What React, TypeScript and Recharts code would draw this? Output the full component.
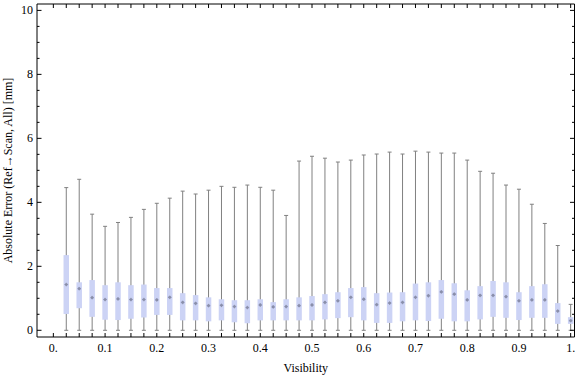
import React from 'react';
import { ComposedChart, Scatter, ErrorBar, XAxis, YAxis, Label } from 'recharts';

// Visibility bins and box-whisker statistics
const visibility = [
  0.025, 0.05, 0.075, 0.1, 0.125, 0.15, 0.175, 0.2, 0.225, 0.25,
  0.275, 0.3, 0.325, 0.35, 0.375, 0.4, 0.425, 0.45, 0.475, 0.5,
  0.525, 0.55, 0.575, 0.6, 0.625, 0.65, 0.675, 0.7, 0.725, 0.75,
  0.775, 0.8, 0.825, 0.85, 0.875, 0.9, 0.925, 0.95, 0.975, 1.0,
];
const maxs = [
  4.46, 4.72, 3.63, 3.25, 3.37, 3.53, 3.78, 3.97, 4.13, 4.35,
  4.26, 4.38, 4.5, 4.47, 4.54, 4.47, 4.38, 3.59, 5.29, 5.44,
  5.38, 5.26, 5.32, 5.48, 5.51, 5.57, 5.51, 5.6, 5.57, 5.54,
  5.54, 5.32, 4.97, 4.91, 4.54, 4.41, 3.94, 3.34, 2.65, 0.81,
];
const q3s = [
  2.35, 1.5, 1.57, 1.41, 1.5, 1.41, 1.43, 1.32, 1.32, 1.16,
  1.1, 1.03, 0.97, 0.94, 0.94, 0.97, 0.88, 0.97, 1.03, 1.07,
  1.13, 1.19, 1.32, 1.35, 1.16, 1.18, 1.19, 1.46, 1.5, 1.57,
  1.47, 1.25, 1.38, 1.54, 1.5, 1.19, 1.38, 1.44, 0.85, 0.41,
];
const medians = [
  1.43, 1.3, 1.02, 0.96, 0.98, 0.96, 0.96, 0.95, 1.03, 0.87,
  0.84, 0.77, 0.78, 0.74, 0.71, 0.79, 0.73, 0.74, 0.77, 0.79,
  0.87, 0.92, 1.03, 0.97, 0.8, 0.85, 0.87, 1.03, 1.08, 1.2,
  1.13, 0.95, 1.09, 1.09, 1.05, 0.92, 0.95, 0.95, 0.6, 0.3,
];
const q1s = [
  0.51, 0.69, 0.42, 0.33, 0.32, 0.36, 0.4, 0.48, 0.48, 0.31,
  0.31, 0.28, 0.31, 0.25, 0.22, 0.31, 0.31, 0.31, 0.31, 0.31,
  0.34, 0.38, 0.41, 0.31, 0.23, 0.23, 0.28, 0.31, 0.29, 0.36,
  0.28, 0.28, 0.34, 0.42, 0.39, 0.32, 0.39, 0.39, 0.2, 0.2,
];
const mins = [
  0, 0, 0, 0, 0, 0, 0, 0, 0, 0,
  0, 0, 0, 0, 0, 0, 0, 0, 0, 0,
  0, 0, 0, 0, 0, 0, 0, 0, 0, 0,
  0, 0, 0, 0, 0, 0, 0, 0, 0, 0,
];

// Ticks
const xTicks = [0, ...visibility];
const xTickLabels: Record<string, string> = {
  '0': '0.', '0.1': '0.1', '0.2': '0.2', '0.3': '0.3', '0.4': '0.4', '0.5': '0.5',
  '0.6': '0.6', '0.7': '0.7', '0.8': '0.8', '0.9': '0.9', '1': '1.',
};
const yTicks = [
  0, 0.5, 1, 1.5, 2, 2.5, 3, 3.5, 4, 4.5, 5, 5.5, 6, 6.5, 7, 7.5, 8, 8.5, 9, 9.5, 10,
];
const yMajor = [0, 2, 4, 6, 8, 10];

const FONT = '"Liberation Serif", "DejaVu Serif", serif';
const BOX = '#ccd3f5';
const WHISKER = '#808080';

const data = visibility.map((x, i) => ({
  x,
  median: medians[i],
  whisker: [medians[i] - mins[i], maxs[i] - medians[i]],
  box: [medians[i] - q1s[i], q3s[i] - medians[i]],
}));

const BottomTick = ({ x, y, payload }: any) => {
  const label = xTickLabels[String(payload.value)];
  return (
    <g>
      <line x1={x} y1={y} x2={x} y2={y - 4} stroke="#000" />
      {label && (
        <text x={x} y={y + 15} textAnchor="middle" fontFamily={FONT} fontSize={12} fill="#000">
          {label}
        </text>
      )}
    </g>
  );
};

const TopTick = ({ x, y }: any) => <line x1={x} y1={y} x2={x} y2={y + 4} stroke="#000" />;

const LeftTick = ({ x, y, payload }: any) => {
  const major = yMajor.includes(payload.value);
  return (
    <g>
      <line x1={x} y1={y} x2={x + (major ? 4.5 : 2.5)} y2={y} stroke="#000" />
      {major && (
        <text x={x - 4} y={y + 4} textAnchor="end" fontFamily={FONT} fontSize={12} fill="#000">
          {payload.value}
        </text>
      )}
    </g>
  );
};

const RightTick = ({ x, y, payload }: any) => {
  const major = yMajor.includes(payload.value);
  return <line x1={x} y1={y} x2={x - (major ? 4.5 : 2.5)} y2={y} stroke="#000" />;
};

const MedianDot = ({ cx, cy }: any) => (
  <g>
    <circle cx={cx} cy={cy} r={1.4} fill="#8a8fab" />
    <line x1={cx - 1.8} y1={cy} x2={cx + 1.8} y2={cy} stroke="#8a8fab" strokeWidth={0.8} />
    <line x1={cx} y1={cy - 1.8} x2={cx} y2={cy + 1.8} stroke="#8a8fab" strokeWidth={0.8} />
  </g>
);

const NoDot = () => <g />;

export default function App() {
  const xDomain = [-0.0316, 1.0074];
  const yDomain = [-0.21, 10.2];
  return (
    <div style={{ position: 'absolute', left: 0, top: 0, background: '#fff' }}>
      <ComposedChart width={576} height={377} data={data} margin={{ top: 0, right: 0, bottom: 0, left: 0 }}>
        <XAxis
          xAxisId="b"
          dataKey="x"
          type="number"
          domain={xDomain}
          allowDataOverflow
          ticks={xTicks}
          interval={0}
          height={40}
          tickSize={0}
          tickMargin={0}
          tickLine={false}
          axisLine={{ stroke: '#000' }}
          tick={<BottomTick />}
        >
          <Label
            content={({ viewBox }: any) => (
              <text
                x={viewBox.x + viewBox.width / 2}
                y={viewBox.y + 35}
                textAnchor="middle"
                fontFamily={FONT}
                fontSize={12}
                fill="#000"
              >
                Visibility
              </text>
            )}
          />
        </XAxis>
        <XAxis
          xAxisId="t"
          orientation="top"
          dataKey="x"
          type="number"
          domain={xDomain}
          allowDataOverflow
          ticks={xTicks}
          interval={0}
          height={4}
          tickSize={0}
          tickMargin={0}
          tickLine={false}
          axisLine={{ stroke: '#000' }}
          tick={<TopTick />}
        />
        <YAxis
          yAxisId="l"
          dataKey="median"
          type="number"
          domain={yDomain}
          allowDataOverflow
          ticks={yTicks}
          interval={0}
          width={37}
          tickSize={0}
          tickMargin={0}
          tickLine={false}
          axisLine={{ stroke: '#000' }}
          tick={<LeftTick />}
        >
          <Label
            content={({ viewBox }: any) => {
              const cx = 12;
              const cy = viewBox.y + viewBox.height / 2;
              return (
                <text
                  x={cx}
                  y={cy}
                  transform={`rotate(-90 ${cx} ${cy})`}
                  textAnchor="middle"
                  fontFamily={FONT}
                  fontSize={12}
                  fill="#000"
                >
                  Absolute Error (Ref→Scan, All) [mm]
                </text>
              );
            }}
          />
        </YAxis>
        <YAxis
          yAxisId="r"
          orientation="right"
          dataKey="median"
          type="number"
          domain={yDomain}
          allowDataOverflow
          ticks={yTicks}
          interval={0}
          width={1.5}
          tickSize={0}
          tickMargin={0}
          tickLine={false}
          axisLine={{ stroke: '#000' }}
          tick={<RightTick />}
        />
        <Scatter xAxisId="b" yAxisId="l" dataKey="median" shape={<NoDot />} isAnimationActive={false}>
          <ErrorBar dataKey="whisker" direction="y" width={2} stroke={WHISKER} strokeWidth={1} />
        </Scatter>
        <Scatter xAxisId="b" yAxisId="l" dataKey="median" shape={<NoDot />} isAnimationActive={false}>
          <ErrorBar dataKey="box" direction="y" width={0} stroke={BOX} strokeWidth={5.5} />
        </Scatter>
        <Scatter xAxisId="b" yAxisId="l" dataKey="median" shape={<MedianDot />} isAnimationActive={false} />
      </ComposedChart>
    </div>
  );
}
